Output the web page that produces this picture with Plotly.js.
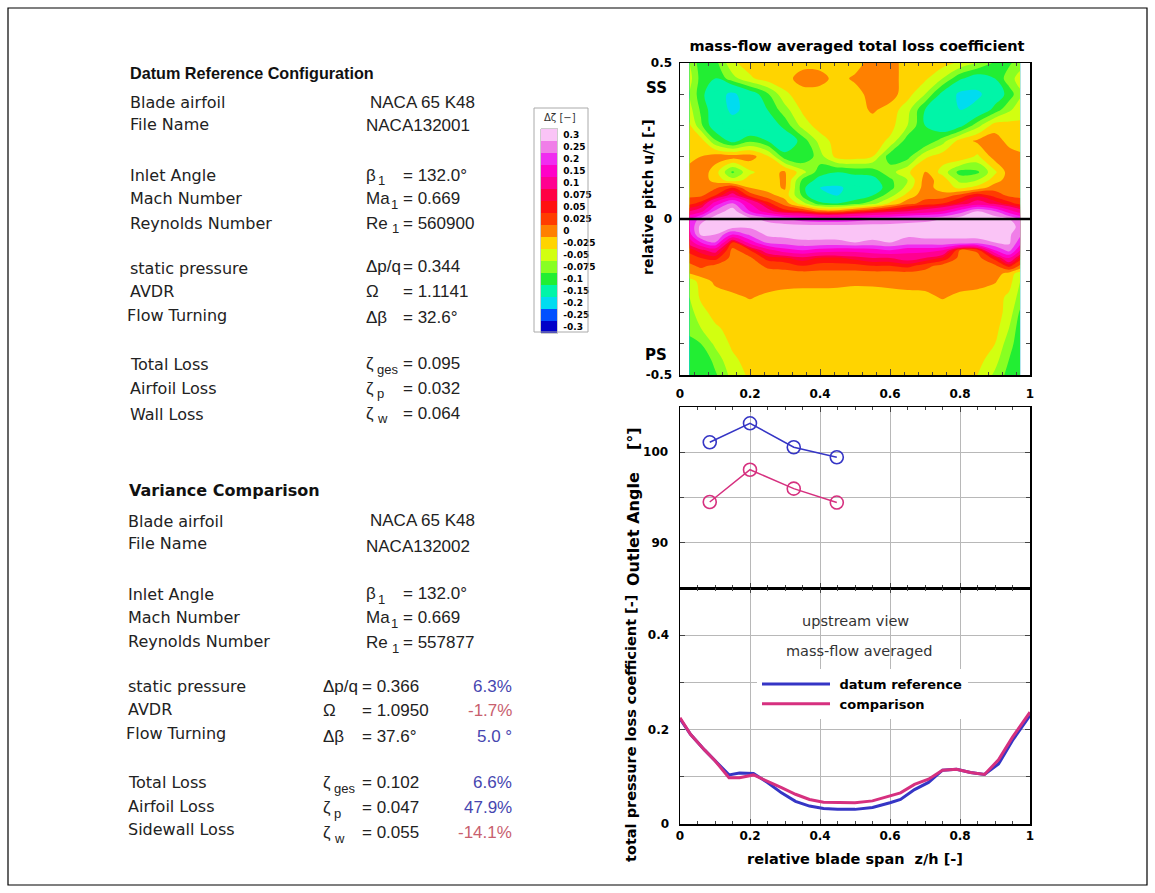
<!DOCTYPE html>
<html><head><meta charset="utf-8">
<script src="https://cdn.plot.ly/plotly-3.0.1.min.js"></script>
<style>html,body{margin:0;padding:0;background:#fff;}#chart{width:1155px;height:893px;}</style>
</head><body><div id="chart"></div>
<script>
// ---------------- DATA ----------------
// contour: relative blade span (x) and relative pitch (y), delta loss coefficient
const spanX = [0.027,0.06,0.1,0.15,0.2,0.25,0.3,0.35,0.4,0.45,0.5,0.55,0.6,0.65,0.7,0.75,0.8,0.85,0.9,0.94,0.972];
const pitchY = [0.5,0.45,0.4,0.35,0.3,0.25,0.2,0.15,0.125,0.1,0.075,0.05,0.025,0,-0.025,-0.05,-0.075,-0.1,-0.125,-0.15,-0.175,-0.2,-0.25,-0.3,-0.35,-0.4,-0.45,-0.5];
const deltaZeta = [
 [-0.05,-0.09,-0.085,-0.03,-0.012,-0.012,-0.012,-0.01,-0.01,-0.012,-0.012,0.012,0.012,-0.012,-0.012,-0.015,-0.03,-0.05,-0.08,-0.08,-0.06],
 [-0.04,-0.085,-0.1,-0.06,-0.03,-0.012,-0.01,0.012,0.01,-0.01,0.005,0.015,0.012,-0.012,-0.02,-0.05,-0.095,-0.12,-0.1,-0.06,-0.04],
 [-0.05,-0.09,-0.13,-0.16,-0.12,-0.08,-0.03,-0.012,-0.012,-0.012,-0.012,0.012,0.012,-0.015,-0.05,-0.11,-0.16,-0.16,-0.12,-0.09,-0.055],
 [-0.04,-0.08,-0.12,-0.16,-0.135,-0.1,-0.06,-0.02,-0.012,-0.012,-0.012,0.004,-0.01,-0.04,-0.1,-0.13,-0.15,-0.13,-0.09,-0.055,-0.035],
 [-0.02,-0.07,-0.12,-0.13,-0.14,-0.125,-0.09,-0.04,-0.012,-0.012,-0.012,-0.012,-0.015,-0.05,-0.1,-0.13,-0.11,-0.06,-0.012,-0.015,-0.02],
 [-0.012,-0.012,-0.07,-0.11,-0.08,-0.1,-0.125,-0.09,-0.04,-0.012,-0.012,-0.012,-0.03,-0.09,-0.1,-0.06,-0.015,0.005,0.012,-0.008,-0.012],
 [-0.01,0.0,0.012,0.012,0.012,-0.02,-0.09,-0.1,-0.06,-0.015,-0.012,-0.025,-0.09,-0.085,-0.03,-0.012,-0.005,-0.03,0.012,0.012,0.005],
 [0.012,0.015,-0.012,-0.08,-0.03,-0.012,0.005,-0.04,-0.09,-0.1,-0.095,-0.09,-0.06,-0.03,0.003,-0.035,-0.085,-0.08,-0.03,0.012,0.012],
 [0.015,0.015,-0.01,-0.04,-0.015,-0.012,0.005,-0.08,-0.11,-0.12,-0.11,-0.11,-0.08,-0.05,0.01,-0.01,-0.06,-0.05,-0.012,0.012,0.012],
 [0.015,0.02,0.02,0.05,0.0,-0.01,0.003,-0.09,-0.15,-0.16,-0.13,-0.12,-0.085,-0.04,0.012,-0.012,-0.03,-0.015,0.015,0.015,0.015],
 [0.02,0.02,0.05,0.12,0.04,0.01,-0.01,-0.08,-0.15,-0.15,-0.12,-0.1,-0.06,-0.015,0.015,0.01,0.035,0.07,0.04,0.02,0.018],
 [0.04,0.06,0.17,0.26,0.15,0.06,0.012,-0.04,-0.09,-0.1,-0.085,-0.06,-0.02,0.015,0.035,0.05,0.08,0.12,0.09,0.06,0.04],
 [0.1,0.13,0.26,0.33,0.2,0.12,0.06,0.05,0.015,0.015,0.04,0.06,0.08,0.1,0.12,0.15,0.22,0.3,0.25,0.17,0.12],
 [0.2,0.27,0.33,0.35,0.32,0.28,0.25,0.22,0.2,0.2,0.22,0.24,0.25,0.27,0.28,0.3,0.33,0.35,0.33,0.3,0.25],
 [0.2,0.32,0.33,0.32,0.31,0.33,0.33,0.33,0.33,0.33,0.33,0.33,0.33,0.33,0.33,0.33,0.33,0.33,0.33,0.33,0.28],
 [0.18,0.31,0.3,0.2,0.26,0.31,0.32,0.32,0.32,0.32,0.32,0.32,0.31,0.31,0.32,0.31,0.31,0.32,0.32,0.31,0.26],
 [0.12,0.2,0.25,0.05,0.17,0.26,0.27,0.29,0.29,0.29,0.3,0.29,0.3,0.28,0.28,0.29,0.29,0.28,0.3,0.31,0.22],
 [0.06,0.09,0.12,0.015,0.05,0.13,0.18,0.2,0.18,0.17,0.17,0.18,0.2,0.17,0.17,0.15,0.02,0.03,0.2,0.27,0.15],
 [0.035,0.05,0.06,0.015,0.02,0.06,0.07,0.09,0.07,0.07,0.085,0.1,0.1,0.12,0.1,0.07,0.015,0.015,0.06,0.15,0.06],
 [0.02,0.03,0.02,0.015,0.012,0.03,0.035,0.05,0.04,0.04,0.04,0.05,0.05,0.06,0.035,0.015,0.012,0.012,0.02,0.06,0.02],
 [0.0,0.012,0.015,0.015,0.012,0.015,0.015,0.015,0.015,0.015,0.015,0.015,0.015,0.015,0.015,0.015,0.015,0.015,0.012,-0.01,-0.04],
 [-0.04,-0.015,0.005,0.012,0.012,0.012,0.01,0.008,0.008,0.008,0.005,0.005,0.008,0.01,0.008,0.008,0.01,0.01,0.002,-0.015,-0.05],
 [-0.05,-0.02,-0.012,-0.005,0.002,-0.005,-0.01,-0.01,-0.01,-0.012,-0.012,-0.01,-0.01,-0.008,-0.005,0.002,-0.005,-0.01,-0.015,-0.03,-0.06],
 [-0.06,-0.035,-0.015,-0.012,-0.012,-0.012,-0.012,-0.012,-0.012,-0.012,-0.012,-0.012,-0.012,-0.012,-0.012,-0.012,-0.012,-0.012,-0.013,-0.035,-0.08],
 [-0.07,-0.05,-0.03,-0.015,-0.012,-0.012,-0.012,-0.012,-0.012,-0.012,-0.012,-0.012,-0.012,-0.012,-0.012,-0.012,-0.012,-0.012,-0.015,-0.05,-0.09],
 [-0.08,-0.075,-0.045,-0.02,-0.012,-0.012,-0.012,-0.012,-0.012,-0.012,-0.012,-0.012,-0.012,-0.012,-0.012,-0.012,-0.012,-0.012,-0.025,-0.065,-0.09],
 [-0.09,-0.1,-0.065,-0.03,-0.015,-0.012,-0.012,-0.012,-0.012,-0.012,-0.012,-0.012,-0.012,-0.012,-0.012,-0.012,-0.012,-0.015,-0.04,-0.075,-0.09],
 [-0.085,-0.1,-0.08,-0.04,-0.02,-0.012,-0.012,-0.012,-0.012,-0.012,-0.012,-0.012,-0.012,-0.012,-0.012,-0.012,-0.012,-0.025,-0.055,-0.085,-0.09]
];

// colour legend levels
const levelLabels = ['-0.3','-0.25','-0.2','-0.15','-0.1','-0.075','-0.05','-0.025','0','0.025','0.05','0.075','0.1','0.15','0.2','0.25','0.3'];
const levelValues = [-0.3,-0.25,-0.2,-0.15,-0.1,-0.075,-0.05,-0.025,0,0.025,0.05,0.075,0.1,0.15,0.2,0.25,0.3];

// outlet angle
const angleSpan = [0.085, 0.2, 0.325, 0.448];
const angleDatum = [101.1, 103.2, 100.55, 99.45];
const angleComparison = [94.5, 98.07, 95.98, 94.44];

// total pressure loss coefficient
const lossSpan = [0,0.03,0.07,0.1,0.14,0.17,0.21,0.25,0.29,0.33,0.37,0.41,0.45,0.5,0.55,0.6,0.63,0.67,0.71,0.75,0.79,0.83,0.87,0.91,0.95,1.0];
const lossDatum = [0.223,0.19,0.157,0.134,0.104,0.108,0.107,0.088,0.066,0.048,0.038,0.033,0.031,0.031,0.035,0.045,0.052,0.073,0.088,0.114,0.116,0.109,0.105,0.127,0.177,0.23];
const lossComparison = [0.225,0.19,0.157,0.134,0.098,0.098,0.104,0.091,0.077,0.063,0.052,0.046,0.045,0.045,0.049,0.06,0.066,0.084,0.095,0.114,0.116,0.109,0.105,0.136,0.184,0.237];

// text panels
const datumTitle = 'Datum Reference Configuration';
const datumLabels = ['Blade airfoil','File Name','Inlet Angle','Mach Number','Reynolds Number','static pressure','AVDR','Flow Turning','Total Loss','Airfoil Loss','Wall Loss'];
const datumSymbols = ['','','β','Ma','Re','Δp/q','Ω','Δβ','ζ','ζ','ζ'];
const datumSubs = ['','','1','1','1','','','','ges','p','w'];
const datumValues = ['NACA 65 K48','NACA132001','= 132.0°','= 0.669','= 560900','= 0.344','= 1.1141','= 32.6°','= 0.095','= 0.032','= 0.064'];
const varianceTitle = 'Variance Comparison';
const varianceLabels = ['Blade airfoil','File Name','Inlet Angle','Mach Number','Reynolds Number','static pressure','AVDR','Flow Turning','Total Loss','Airfoil Loss','Sidewall Loss'];
const varianceSymbols = ['','','β','Ma','Re','Δp/q','Ω','Δβ','ζ','ζ','ζ'];
const varianceSubs = ['','','1','1','1','','','','ges','p','w'];
const varianceValues = ['NACA 65 K48','NACA132002','= 132.0°','= 0.669','= 557877','= 0.366','= 1.0950','= 37.6°','= 0.102','= 0.047','= 0.055'];
const varianceChange = ['','','','','','6.3%','-1.7%','5.0 °','6.6%','47.9%','-14.1%'];

// ---------------- STYLE / LAYOUT ----------------
const W = 1155, H = 893;
const X = p => p / W;
const Y = p => 1 - p / H;

const bandColors = ['#0000c8','#0050ff','#0050ff','#00dcf0','#00dcf0','#00f5a8','#00f5a8','#22ee33','#88ff22','#d2ff10','#ffd400','#ff8000','#ff3c00','#ff1010','#ff0044','#ff0090','#ff0090','#ff00c8','#ff00c8','#f02cf0','#f02cf0','#f07ee8','#f07ee8','#fac4f6'];
const nB = bandColors.length - 1;
const colorscale = [];
bandColors.forEach((c, k) => {
  colorscale.push([Math.max(0, (k - 0.5) / nB), c]);
  colorscale.push([Math.min(1, (k + 0.5) / nB), c]);
});

const BOLD = {family: 'DejaVu Sans', size: 12, color: '#000', weight: 'bold'};
const blue = '#3535c5', pink = '#d6307f';

const traces = [
  {type: 'contour', x: spanX, y: pitchY, z: deltaZeta, xaxis: 'x', yaxis: 'y',
   autocontour: false, contours: {start: -0.25, end: 0.3, size: 0.025, coloring: 'fill', showlines: false},
   line: {width: 0}, colorscale: colorscale, showscale: false, hoverinfo: 'skip'},
  {type: 'heatmap', x: [0], y: levelLabels, z: levelValues.map(v => [v]), xaxis: 'x4', yaxis: 'y4',
   colorscale: colorscale, zmin: -0.275, zmax: 0.3, showscale: false, hoverinfo: 'skip'},
  {type: 'scatter', mode: 'lines+markers', x: angleSpan, y: angleDatum, xaxis: 'x2', yaxis: 'y2',
   line: {color: blue, width: 1.5}, marker: {symbol: 'circle-open', size: 13, color: blue, line: {width: 1.6}}, showlegend: false},
  {type: 'scatter', mode: 'lines+markers', x: angleSpan, y: angleComparison, xaxis: 'x2', yaxis: 'y2',
   line: {color: pink, width: 1.5}, marker: {symbol: 'circle-open', size: 13, color: pink, line: {width: 1.6}}, showlegend: false},
  {type: 'scatter', mode: 'lines', name: '\u00a0datum reference', x: lossSpan, y: lossDatum, xaxis: 'x3', yaxis: 'y3',
   line: {color: blue, width: 3}},
  {type: 'scatter', mode: 'lines', name: '\u00a0comparison', x: lossSpan, y: lossComparison, xaxis: 'x3', yaxis: 'y3',
   line: {color: pink, width: 3}}
];

const xDom = [X(680), X(1030)];
const frame = {showline: true, linecolor: '#000', linewidth: 1.5, mirror: 'ticks', zeroline: false};
const gridC = '#b8b8b8';
const layout = {
  width: W, height: H, autosize: false,
  margin: {l: 0, r: 0, t: 0, b: 0, pad: 0},
  paper_bgcolor: '#fff', plot_bgcolor: '#fff',
  font: {family: 'DejaVu Sans', color: '#000'},
  title: {text: 'mass-flow averaged total loss coefficient', font: {family: 'DejaVu Sans', size: 14.5, weight: 'bold', color: '#000'},
          x: X(857), xanchor: 'center', y: Y(46), yanchor: 'middle'},
  showlegend: true,
  legend: {x: X(757), y: Y(669), xanchor: 'left', yanchor: 'top', bgcolor: 'rgba(255,255,255,1)', borderwidth: 0,
           font: {family: 'DejaVu Sans', size: 13, weight: 'bold', color: '#000'}, itemwidth: 68, tracegroupgap: 0},
  xaxis: Object.assign({}, frame, {domain: xDom, anchor: 'y', range: [0, 1], tickvals: [0,0.2,0.4,0.6,0.8,1], ticktext: ['0','0.2','0.4','0.6','0.8','1'],
          ticks: 'inside', ticklen: 6, tickfont: BOLD, showgrid: false, layer: 'above traces', ticklabelstandoff: 7,
          minor: {ticks: 'inside', ticklen: 3, dtick: 0.04, showgrid: false}}),
  yaxis: Object.assign({}, frame, {domain: [Y(375), Y(63)], anchor: 'x', range: [-0.5, 0.5], tickvals: [-0.5, 0, 0.5], ticktext: ['-0.5','0','0.5'],
          ticks: 'inside', ticklen: 5, tickfont: BOLD, showgrid: false, layer: 'above traces', ticklabelstandoff: 4,
          minor: {ticks: 'inside', ticklen: 4, dtick: 0.1, showgrid: false}}),
  xaxis2: Object.assign({}, frame, {domain: xDom, anchor: 'y2', range: [0, 1], dtick: 0.2, showticklabels: false,
          ticks: 'inside', ticklen: 5, showgrid: true, gridcolor: gridC,
          minor: {ticks: 'inside', ticklen: 3, dtick: 0.05, showgrid: false}}),
  yaxis2: Object.assign({}, frame, {domain: [Y(588), Y(407)], anchor: 'x2', range: [85, 105], tickvals: [90, 100],
          ticks: 'inside', ticklen: 5, tickfont: BOLD, showgrid: true, gridcolor: gridC, ticklabelstandoff: 8,
          minor: {ticks: 'inside', ticklen: 4, tick0: 85, dtick: 5, showgrid: true, gridcolor: gridC}}),
  xaxis3: Object.assign({}, frame, {domain: xDom, anchor: 'y3', range: [0, 1], tickvals: [0,0.2,0.4,0.6,0.8,1], ticktext: ['0','0.2','0.4','0.6','0.8','1'],
          ticks: 'inside', ticklen: 5, tickfont: BOLD, showgrid: true, gridcolor: gridC,
          title: {text: 'relative blade span  z/h [-]', font: {family: 'DejaVu Sans', size: 14.5, weight: 'bold', color: '#000'}, standoff: 12},
          minor: {ticks: 'inside', ticklen: 3, dtick: 0.05, showgrid: false}}),
  yaxis3: Object.assign({}, frame, {domain: [Y(824), Y(588)], anchor: 'x3', range: [0, 0.5], tickvals: [0, 0.2, 0.4],
          ticks: 'inside', ticklen: 5, tickfont: BOLD, showgrid: true, gridcolor: gridC, ticklabelstandoff: 7,
          minor: {ticks: 'inside', ticklen: 4, dtick: 0.1, showgrid: true, gridcolor: gridC}}),
  xaxis4: {domain: [X(541), X(557)], anchor: 'y4', showticklabels: false, showgrid: false, zeroline: false, ticks: '',
           showline: true, mirror: true, linecolor: '#999', linewidth: 0.5},
  yaxis4: {domain: [Y(333), Y(129)], anchor: 'x4', type: 'category', side: 'right', showgrid: false, zeroline: false, ticks: '',
           tickfont: {family: 'DejaVu Sans', size: 9, weight: 'bold', color: '#000'}, ticklabelstandoff: 4,
           showline: true, mirror: true, linecolor: '#999', linewidth: 0.5},
  shapes: [
    {type: 'rect', xref: 'paper', yref: 'paper', x0: X(8), x1: X(1147), y0: Y(885), y1: Y(8), line: {color: '#000', width: 1.2}},
    {type: 'rect', xref: 'paper', yref: 'paper', x0: X(534), x1: X(588), y0: Y(332), y1: Y(108), line: {color: '#aaa', width: 1}},
    {type: 'line', xref: 'x domain', yref: 'y', x0: 0, x1: 1, y0: 0, y1: 0, line: {color: '#000', width: 2.5}, layer: 'above'}
  ],
  annotations: []
};

const A = layout.annotations;
function txt(text, px, py, opts) {
  A.push(Object.assign({xref: 'paper', yref: 'paper', x: X(px), y: Y(py), text: text, showarrow: false,
    xanchor: 'left', yanchor: 'middle', font: {family: 'DejaVu Sans', size: 15, color: '#222'}}, opts || {}));
}
// right panel texts
txt('SS', 656, 88, {xanchor: 'center', font: {family: 'DejaVu Sans', size: 15, weight: 'bold', color: '#000'}});
txt('PS', 656, 355, {xanchor: 'center', font: {family: 'DejaVu Sans', size: 15, weight: 'bold', color: '#000'}});
txt('relative pitch u/t [-]', 648, 197, {xanchor: 'center', textangle: -90, font: {family: 'DejaVu Sans', size: 14, weight: 'bold', color: '#000'}});
txt('Outlet Angle\u00a0\u00a0\u00a0\u00a0[°]', 633, 507, {xanchor: 'center', textangle: -90, font: {family: 'DejaVu Sans', size: 16, weight: 'bold', color: '#000'}});
txt('total pressure loss coefficient [-]', 631, 729, {xanchor: 'center', textangle: -90, font: {family: 'DejaVu Sans', size: 14.5, weight: 'bold', color: '#000'}});
txt('upstream view', 855, 621, {xanchor: 'center', font: {family: 'DejaVu Sans', size: 14.5, color: '#333'}});
txt('mass-flow averaged', 859, 651, {xanchor: 'center', font: {family: 'DejaVu Sans', size: 14.5, color: '#333'}});
txt('Δζ [−]', 560, 117, {xanchor: 'center', font: {family: 'DejaVu Sans', size: 10, color: '#333'}});

// left panel texts
const labFont = {family: 'DejaVu Sans', size: 16, color: '#222'};
const valFont = {family: 'Liberation Sans', size: 17, color: '#222'};
const subFont = {family: 'Liberation Sans', size: 13, color: '#222'};
// horizontal offset of a subscript after its symbol (px), per symbol
const subShift = {'β': 12, 'Ma': 25, 'Re': 26, 'ζ': 11};

txt(datumTitle, 128, 73, {font: {family: 'Liberation Sans', size: 16.2, weight: 'bold', color: '#111'}});
const datumRowY = [103,125,176,199,223,268,291,316,364,388,414];
const datumValY = [102,126,175,198,223,267,291,317,363,388,413];
datumLabels.forEach((s, i) => txt(s, i === 7 ? 125 : 128, datumRowY[i], {font: labFont}));
datumSymbols.forEach((s, i) => {
  if (!s) return;
  txt(s, 364, datumValY[i], {font: valFont});
  if (datumSubs[i]) txt(datumSubs[i], 364 + subShift[s], datumValY[i] + 6, {font: subFont});
});
datumValues.forEach((s, i) => txt(s, datumSymbols[i] ? 401 : (i === 0 ? 368 : 364), datumValY[i], {font: valFont}));

txt(varianceTitle, 127, 490, {font: {family: 'DejaVu Sans', size: 16, weight: 'bold', color: '#111'}});
const varRowY = [521,543,594,617,641,686,709,733,782,806,829];
const varValY = [520,546,593,617,642,686,710,736,782,807,832];
varianceLabels.forEach((s, i) => txt(s, i === 7 ? 124 : 126, varRowY[i], {font: labFont}));
varianceSymbols.forEach((s, i) => {
  if (!s) return;
  const sx = i >= 5 ? 321 : 364;
  txt(s, sx, varValY[i], {font: valFont});
  if (varianceSubs[i]) txt(varianceSubs[i], sx + subShift[s], varValY[i] + 6, {font: subFont});
});
varianceValues.forEach((s, i) => txt(s, varianceSymbols[i] ? (i >= 5 ? 360 : 401) : (i === 0 ? 368 : 364), varValY[i], {font: valFont}));
varianceChange.forEach((s, i) => { if (s) txt(s, 514, varValY[i], {xanchor: 'right',
  font: {family: 'Liberation Sans', size: 17, color: s.charAt(0) === '-' ? '#c8606e' : '#4646b0'}}); });

Plotly.newPlot('chart', traces, layout, {displayModeBar: false, staticPlot: true});
</script>
</body></html>
